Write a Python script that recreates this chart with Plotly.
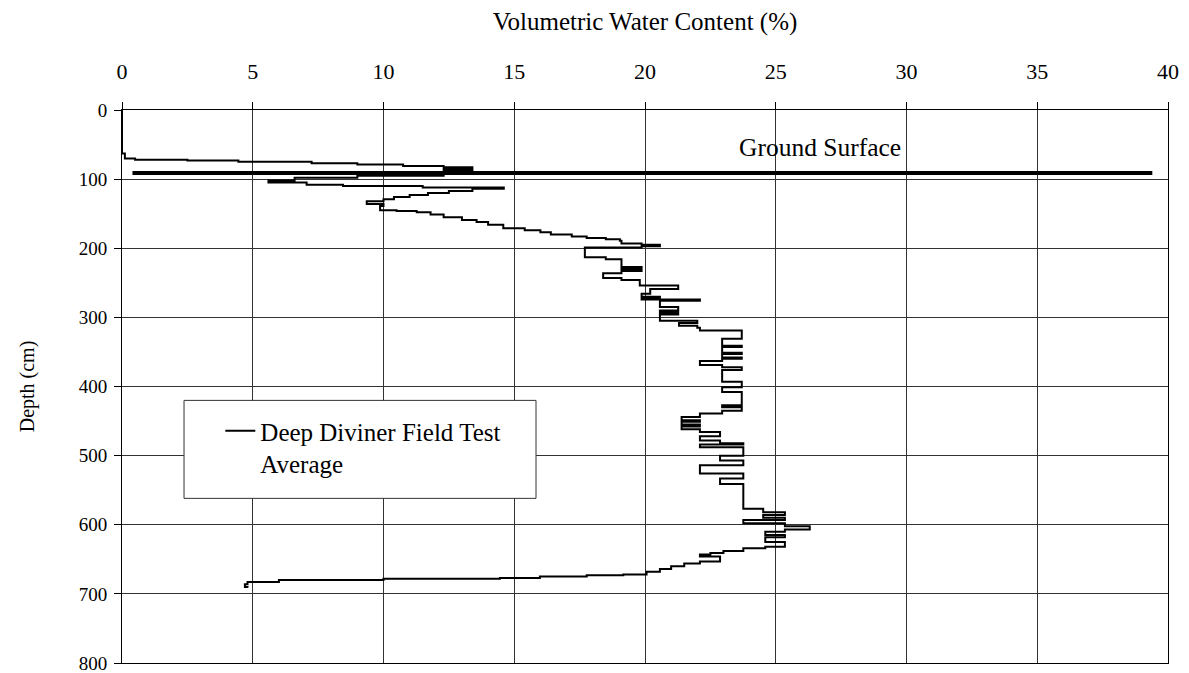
import plotly.graph_objects as go

# Volumetric water content (%) vs depth (cm) - Deep Diviner field test average
water_content = [
    0.0, 0.0, 0.11, 0.5, 2.5, 4.45, 7.25, 9.0, 10.75, 12.3, 13.4, 12.3, 13.4,
    12.3, 13.4, 12.3, 9.0, 6.6, 5.6, 7.06, 8.45, 11.5, 14.6, 13.4, 12.5, 11.7,
    11.0, 10.4, 10.0, 9.36, 10.0, 9.87, 10.5, 11.27, 11.8, 12.3, 13.0, 13.56,
    14.0, 14.58, 15.4, 16.0, 16.4, 17.2, 17.77, 18.5, 19.04, 19.1, 19.87,
    20.57, 19.87, 17.7, 17.7, 18.5, 19.1, 19.1, 19.87, 19.1, 19.87, 19.1,
    18.4, 19.1, 19.8, 21.27, 20.2, 19.87, 20.57, 19.87, 22.1, 20.57, 20.57,
    21.27, 20.57, 21.27, 20.57, 20.57, 22.0, 21.3, 22.0, 22.1, 23.7,
    23.7, 22.95, 23.7, 22.95, 23.7, 22.95, 23.7, 22.95, 22.1, 22.95, 23.7,
    22.95, 22.95, 23.7, 22.95, 23.7, 23.7, 22.95, 23.7, 22.95, 22.1, 21.4,
    22.1, 21.4, 22.1, 21.4, 22.1, 22.87, 22.1, 22.87, 23.76, 22.1, 23.76,
    23.76, 22.87, 23.76, 22.1, 23.76, 22.87, 23.76, 23.76, 24.52, 25.35,
    24.52, 25.35, 23.76, 25.35, 26.3, 25.35, 24.6, 25.35, 24.6, 25.35, 24.6,
    23.76, 23.0, 22.5, 22.1, 22.87, 22.1, 21.5, 21.0, 20.57, 20.06, 19.17,
    17.77, 15.98, 14.45, 10.0, 6.0, 4.8, 4.7, 4.8,
]
depth = [
    0, 63, 70, 72, 73, 75, 77, 79, 81, 83, 85, 87, 88.5,
    90, 92, 95, 98, 102, 105, 108, 110, 112, 114, 117, 120, 123,
    126, 129, 132, 136, 139, 145, 146, 148, 151, 155, 159, 162,
    166, 171, 174, 177, 180, 183, 185, 187, 189, 193, 195,
    197, 199, 203, 213, 216, 220, 227, 229, 231, 233, 236,
    243, 246, 254, 259, 266, 270, 272, 274, 276, 279, 285,
    290, 293, 296, 300, 305, 308, 312, 315, 319, 322,
    331, 341, 343, 351, 353, 358, 360, 363, 369, 372, 376,
    384, 393, 401, 408, 413, 427, 430, 435, 439, 444, 449,
    451, 455, 458, 462, 466, 472, 478, 482, 484, 488, 495,
    500, 507, 514, 526, 533, 541, 545, 577, 582, 586,
    590, 593, 598, 602, 607, 610, 615, 618, 625, 632, 634,
    638, 641, 643, 646, 653, 656, 660, 664, 668, 672, 673,
    675, 677, 678, 680, 683, 686, 690, 691,
]

# Ground surface marker
ground_x = [0.4, 39.4]
ground_depth = [91, 91]

x_ticks = [0, 5, 10, 15, 20, 25, 30, 35, 40]
y_ticks = [0, 100, 200, 300, 400, 500, 600, 700, 800]

FONT = "Liberation Serif"

fig = go.Figure()
fig.add_trace(go.Scatter(
    x=water_content, y=depth, mode="lines",
    line=dict(color="black", width=2, shape="hv"),
    name="Deep Diviner Field Test<br>Average",
))
fig.add_trace(go.Scatter(
    x=ground_x, y=ground_depth, mode="lines",
    line=dict(color="black", width=4),
    showlegend=False, hoverinfo="skip",
))

# legend box (white, covers grid)
fig.add_shape(type="rect", xref="paper", yref="paper",
              x0=0.0593, x1=0.3958, y0=0.2977, y1=0.4749,
              fillcolor="white", line=dict(color="#333", width=1), layer="above")

fig.add_annotation(x=26.7, y=54, xref="x", yref="y", text="Ground Surface",
                   showarrow=False, font=dict(family=FONT, size=25.5, color="black"))

fig.update_layout(
    width=1181, height=665,
    margin=dict(l=114, r=21, t=102, b=10),
    paper_bgcolor="white", plot_bgcolor="white",
    font=dict(family=FONT, size=22, color="black"),
    showlegend=True,
    legend=dict(x=0.094, y=0.461, xanchor="left", yanchor="top",
                bgcolor="rgba(0,0,0,0)", borderwidth=0, valign="top",
                font=dict(family=FONT, size=25, color="black")),
)
fig.update_xaxes(
    range=[0, 40], side="top", tickvals=x_ticks,
    showgrid=True, gridcolor="#333", gridwidth=1,
    showline=True, linecolor="black", linewidth=1, mirror=True,
    ticks="outside", ticklen=7, tickcolor="black", ticklabelstandoff=14,
    zeroline=False, automargin=False,
    title=dict(text="Volumetric Water Content (%)", standoff=22,
               font=dict(family=FONT, size=25)),
)
fig.update_yaxes(
    range=[800, 0], tickvals=y_ticks, tickfont=dict(family=FONT, size=19),
    showgrid=True, gridcolor="#333", gridwidth=1,
    showline=True, linecolor="black", linewidth=1, mirror=True,
    ticks="outside", ticklen=7, tickcolor="black", ticklabeloverflow="allow",
    ticklabelstandoff=3,
    zeroline=False, automargin=False,
    title=dict(text="Depth (cm)", standoff=38, font=dict(family=FONT, size=20)),
)

fig.write_html("out.html")
